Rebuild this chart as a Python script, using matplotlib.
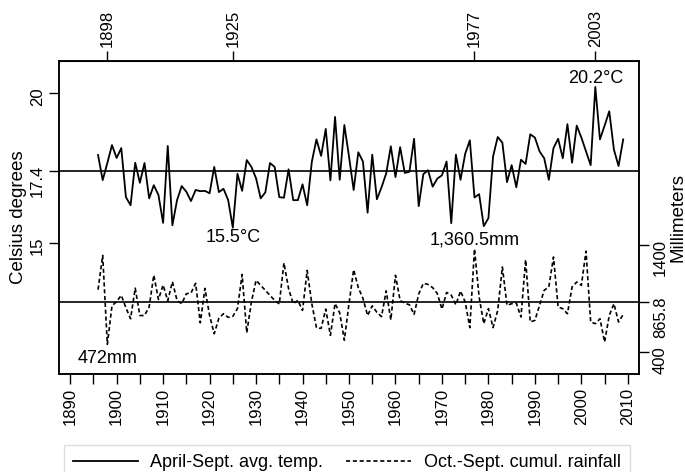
import numpy as np
import matplotlib
matplotlib.use("Agg")
import matplotlib.pyplot as plt

# yearly series, 1896-2009
years = np.arange(1896, 2010)
temp = [17.93, 17.09, 17.66, 18.26, 17.83, 18.16, 16.52, 16.25, 17.67, 17.00,
        17.66, 16.48, 16.92, 16.59, 15.66, 18.23, 15.58, 16.42, 16.89, 16.70,
        16.39, 16.76, 16.72, 16.73, 16.65, 17.53, 16.69, 16.80, 16.42, 15.50,
        17.30, 16.73, 17.76, 17.53, 17.15, 16.48, 16.68, 17.66, 17.53, 16.52,
        16.50, 17.45, 16.42, 16.42, 16.95, 16.25, 17.70, 18.45, 17.90, 18.80,
        17.08, 19.20, 17.10, 18.93, 17.88, 16.76, 18.02, 17.71, 16.00, 17.94,
        16.45, 16.85, 17.31, 18.22, 17.19, 18.19, 17.33, 17.37, 18.47, 16.22,
        17.29, 17.42, 16.87, 17.14, 17.25, 17.71, 15.65, 17.94, 17.10, 17.97,
        18.42, 16.51, 16.62, 15.55, 15.82, 17.88, 18.53, 18.34, 17.02, 17.59,
        16.85, 17.77, 17.63, 18.62, 18.51, 18.05, 17.82, 17.10, 18.16, 18.47,
        17.82, 18.96, 17.67, 18.91, 18.51, 18.05, 17.59, 20.20, 18.45, 18.91,
        19.39, 18.11, 17.56, 18.45]
rain = [981, 1300, 472, 830, 870, 928, 812, 710, 995, 740,
        740, 820, 1117, 890, 1024, 878, 1055, 881, 850, 943,
        950, 1040, 672, 993, 741, 570, 715, 757, 723, 732,
        805, 1122, 580, 866, 1068, 1021, 975, 928, 881, 848,
        1230, 990, 850, 881, 788, 1160, 850, 625, 620, 800,
        555, 852, 765, 510, 850, 1167, 1000, 900, 740, 830,
        770, 730, 970, 700, 1115, 880, 855, 840, 750, 940,
        1040, 1030, 1000, 945, 800, 955, 930, 840, 968, 866,
        627, 1360.5, 912, 664, 804, 627, 788, 1192, 835, 850,
        856, 726, 1260, 680, 695, 835, 975, 1006, 1285, 819,
        804, 757, 1006, 1052, 1021, 1340, 680, 664, 710, 493,
        741, 850, 680, 750]
temp_mean = 17.4
rain_mean = 865.8
temp_label = "April-Sept. avg. temp."
rain_label = "Oct.-Sept. cumul. rainfall"

plt.rcParams['font.family'] = ['Liberation Sans', 'DejaVu Sans']

temp = np.array(temp)
rain = np.array(rain)

fig = plt.figure(figsize=(6.85, 4.72), dpi=100)
ax = fig.add_axes([59/685, 98/472, 580/685, 313/472])
ax2 = ax.twinx()

l1, = ax.plot(years, temp, color='black', lw=1.3, label=temp_label)
l2, = ax2.plot(years, rain, color='black', lw=1.2, ls=(0, (2.5, 1.6)), label=rain_label)
ax.axhline(temp_mean, color='black', lw=1.2)
ax2.axhline(rain_mean, color='black', lw=1.2)

ax.set_xlim(1887.6, 2012.4)
ax.set_ylim(10.61, 21.07)
ax2.set_ylim(195, 3112)

# bottom axis
ax.set_xticks(np.arange(1890, 2011, 10))
ax.set_xticks(np.arange(1895, 2010, 10), minor=True)
ax.tick_params(axis='x', which='both', length=7, width=1, labelsize=12,
               labelrotation=90, pad=3)

# left axis
ax.set_yticks([15, temp_mean, 20])
ax.set_yticklabels(['15', f'{temp_mean:g}', '20'])
ax.tick_params(axis='y', length=7, width=1, labelsize=12, labelrotation=90, pad=3)

# right axis
ax2.set_yticks([400, rain_mean, 1400])
ax2.set_yticklabels(['400', f'{rain_mean:g}', '1400'])
ax2.tick_params(axis='y', length=7, width=1, labelsize=12, labelrotation=90, pad=3)

# top axis: years of the extremes
i_tmax, i_tmin = temp.argmax(), temp.argmin()
i_rmax, i_rmin = rain.argmax(), rain.argmin()
top_years = sorted({years[i_tmax], years[i_tmin], years[i_rmax], years[i_rmin]})
top = ax.secondary_xaxis('top')
top.set_xticks(top_years)
top.set_xticklabels([str(y) for y in top_years])
top.tick_params(length=7, width=1, labelsize=12, labelrotation=90, pad=3)

for a in (ax, ax2):
    for s in a.spines.values():
        s.set_linewidth(1.1)

# extreme value labels
ax.annotate(f"{temp[i_tmax]:.1f}°C", (years[i_tmax], temp[i_tmax]), xytext=(0, 0),
            textcoords='offset points', ha='center', va='bottom', fontsize=13)
ax.annotate(f"{temp[i_tmin]:.1f}°C", (years[i_tmin], temp[i_tmin]), xytext=(0, -1),
            textcoords='offset points', ha='center', va='top', fontsize=13)
ax2.annotate(f"{rain[i_rmax]:,g}mm", (years[i_rmax], rain[i_rmax]), xytext=(0, 0),
             textcoords='offset points', ha='center', va='bottom', fontsize=13)
ax2.annotate(f"{rain[i_rmin]:,g}mm", (years[i_rmin], rain[i_rmin]), xytext=(0, -4),
             textcoords='offset points', ha='center', va='top', fontsize=13)

fig.text(19/685, 1 - 217/472, "Celsius degrees", rotation=90, ha='center',
         va='center', fontsize=13.5)
fig.text(678/685, 1 - 217/472, "Millimeters", rotation=90, ha='center',
         va='center', fontsize=13.5)

leg = fig.legend(handles=[l1, l2], loc='upper left', bbox_to_anchor=(64/685, 1 - 445/472),
                 ncol=2, fontsize=13, frameon=True, fancybox=False, borderaxespad=0,
                 handlelength=3.6, handletextpad=0.67, columnspacing=1.3, borderpad=0.5)
leg.get_frame().set_edgecolor('#cfd6dd')
leg.get_frame().set_linewidth(1.0)

fig.savefig("out.png", dpi=100)
